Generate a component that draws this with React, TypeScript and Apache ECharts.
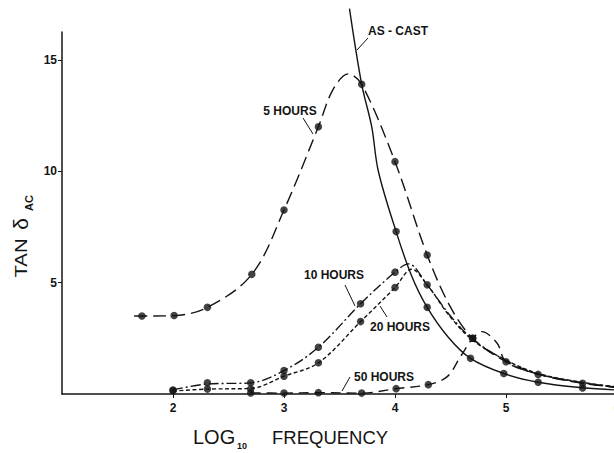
import React, { useEffect, useRef } from "react";
import * as echarts from "echarts";

// ---- data ----
const xTicks = [2, 3, 4, 5, 6];
const yTicks = [5, 10, 15];

// curve traces (log10 frequency, tan delta)
const asCastCurve = [[3.59, 17.3], [3.7, 13.9], [3.79, 12.0], [3.85, 10.0], [4.01, 7.29], [4.15, 5.3], [4.29, 3.89], [4.48, 2.55], [4.68, 1.6], [4.98, 0.92], [5.29, 0.53], [5.69, 0.28], [6.0, 0.18]];
const fiveHrCurve = [[1.65, 3.5], [1.72, 3.5], [2.01, 3.52], [2.31, 3.89], [2.71, 5.37], [3.0, 8.26], [3.31, 12.0], [3.44, 13.65], [3.58, 14.37], [3.7, 13.9], [4.0, 10.43], [4.29, 6.24], [4.5, 3.9], [4.7, 2.5], [5.0, 1.45], [5.29, 0.88], [5.69, 0.48], [6.0, 0.3]];
const tenHrCurve = [[2.0, 0.18], [2.31, 0.45], [2.7, 0.5], [3.0, 1.05], [3.31, 2.1], [3.69, 4.05], [4.0, 5.47], [4.12, 5.84], [4.29, 4.9], [4.5, 3.5], [4.7, 2.46], [5.0, 1.5], [5.29, 0.9], [5.69, 0.5], [6.0, 0.3]];
const twentyHrCurve = [[2.0, 0.13], [2.31, 0.22], [2.7, 0.25], [3.0, 0.8], [3.31, 1.4], [3.69, 3.25], [4.0, 4.78], [4.15, 5.6], [4.29, 4.9], [4.5, 3.45], [4.7, 2.42], [5.0, 1.52], [5.29, 0.92], [5.69, 0.52], [6.0, 0.32]];
const fiftyHrCurve = [[2.7, 0.05], [3.0, 0.04], [3.31, 0.06], [3.7, 0.04], [4.01, 0.24], [4.3, 0.42], [4.47, 0.78], [4.59, 1.68], [4.7, 2.5], [4.78, 2.8], [4.92, 2.28], [5.0, 1.45], [5.29, 0.9], [5.69, 0.5], [6.0, 0.3]];

// measured points (markers)
const fiveHrPts = [[1.72, 3.5], [2.01, 3.52], [2.31, 3.89], [2.71, 5.37], [3.0, 8.26], [3.31, 12.0], [3.7, 13.9], [4.0, 10.43], [4.29, 6.24], [4.7, 2.5], [5.0, 1.45], [5.29, 0.88], [5.69, 0.48]];
const asCastPts = [[4.01, 7.29], [4.29, 3.89], [4.68, 1.6], [4.98, 0.92], [5.29, 0.53], [5.69, 0.27]];
const tenHrPts = [[2.0, 0.18], [2.31, 0.5], [2.7, 0.5], [3.0, 1.05], [3.31, 2.1], [3.69, 4.05], [4.0, 5.47], [4.29, 4.9]];
const twentyHrPts = [[2.0, 0.15], [2.31, 0.22], [2.7, 0.22], [3.0, 0.8], [3.31, 1.4], [3.69, 3.25], [4.0, 4.78]];
const fiftyHrPts = [[2.7, 0.05], [3.0, 0.04], [3.31, 0.06], [3.7, 0.04], [4.01, 0.24], [4.3, 0.42], [4.7, 2.5]];

const FONT = "Liberation Sans, Arial, sans-serif";
const INK = "#141414";

export default function App() {
  const ref = useRef<HTMLDivElement>(null);
  useEffect(() => {
    const chart = echarts.init(ref.current!, null, { renderer: "svg" });
    const curve = (data: number[][], dash: any, clip = true) => ({
      type: "line",
      data,
      smooth: 0.35,
      showSymbol: false,
      clip,
      lineStyle: { color: INK, width: 1.4, type: dash },
      silent: true,
    });
    const pts = (data: number[][]) => ({
      type: "scatter",
      data,
      symbolSize: 7.5,
      itemStyle: { color: INK },
      silent: true,
    });
    const label = (text: string, x: number, y: number) => ({
      type: "text",
      x,
      y,
      style: { text, fontSize: 12, fontWeight: "bold", fontFamily: FONT, fill: INK, align: "center", verticalAlign: "middle" },
    });
    const leader = (x1: number, y1: number, x2: number, y2: number) => ({
      type: "line",
      shape: { x1, y1, x2, y2 },
      style: { stroke: INK, lineWidth: 1 },
    });
    chart.setOption({
      animation: false,
      backgroundColor: "#fff",
      grid: { left: 62, right: -3, top: 32, bottom: 59, containLabel: false, outerBoundsMode: "none" },
      xAxis: {
        type: "value",
        min: 1,
        max: 6,
        interval: 1,
        axisLine: { lineStyle: { color: INK, width: 1.5 } },
        axisTick: { inside: false, length: 4, customValues: xTicks, lineStyle: { color: INK } },
        axisLabel: { customValues: xTicks, color: INK, fontSize: 12, fontWeight: "bold", fontFamily: FONT, margin: 8, hideOverlap: false },
        splitLine: { show: false },
      },
      yAxis: {
        type: "value",
        min: 0,
        max: 16.25,
        interval: 5,
        axisLine: { show: true, lineStyle: { color: INK, width: 1.5 } },
        axisTick: { show: true, inside: false, length: 4, customValues: yTicks, lineStyle: { color: INK } },
        axisLabel: { customValues: yTicks, color: INK, fontSize: 12, fontWeight: "bold", fontFamily: FONT, margin: 5 },
        splitLine: { show: false },
      },
      series: [
        curve(asCastCurve, "solid", false),
        curve(fiveHrCurve, [13, 6]),
        curve(tenHrCurve, [10, 3, 2, 3]),
        curve(twentyHrCurve, [4, 2.5]),
        curve(fiftyHrCurve, [10, 6]),
        pts(fiveHrPts),
        pts(asCastPts),
        pts(tenHrPts),
        pts(twentyHrPts),
        pts(fiftyHrPts),
      ],
      graphic: [
        label("AS - CAST", 398, 31),
        leader(368, 38, 357, 50),
        label("5 HOURS", 290, 111),
        leader(303, 118, 313, 134),
        label("10 HOURS", 334, 275),
        leader(345, 285, 355, 306),
        label("20 HOURS", 400, 327),
        leader(380, 306, 387, 317),
        label("50 HOURS", 384, 377),
        leader(350, 377, 342, 391),
        {
          type: "text", x: 193, y: 437,
          style: { text: "LOG", fontSize: 20, fontFamily: FONT, fill: INK, align: "left", verticalAlign: "middle" },
        },
        {
          type: "text", x: 237, y: 446,
          style: { text: "10", fontSize: 9, fontWeight: "bold", fontFamily: FONT, fill: INK, align: "left", verticalAlign: "middle" },
        },
        {
          type: "text", x: 272, y: 437,
          style: { text: "FREQUENCY", fontSize: 18.5, fontFamily: FONT, fill: INK, align: "left", verticalAlign: "middle" },
        },
        {
          type: "text", x: 21, y: 258, rotation: Math.PI / 2, scaleX: 1.2,
          style: { text: "TAN", fontSize: 17, fontFamily: FONT, fill: INK, align: "center", verticalAlign: "middle" },
        },
        {
          type: "text", x: 20, y: 224, rotation: Math.PI / 2,
          style: { text: "δ", fontSize: 21, fontFamily: FONT, fill: INK, align: "center", verticalAlign: "middle" },
        },
        {
          type: "text", x: 29, y: 203, rotation: Math.PI / 2,
          style: { text: "AC", fontSize: 11, fontWeight: "bold", fontFamily: FONT, fill: INK, align: "center", verticalAlign: "middle" },
        },
      ],
    });
    return () => chart.dispose();
  }, []);
  return <div ref={ref} style={{ position: "fixed", left: 0, top: 0, width: 614, height: 453 }} />;
}
